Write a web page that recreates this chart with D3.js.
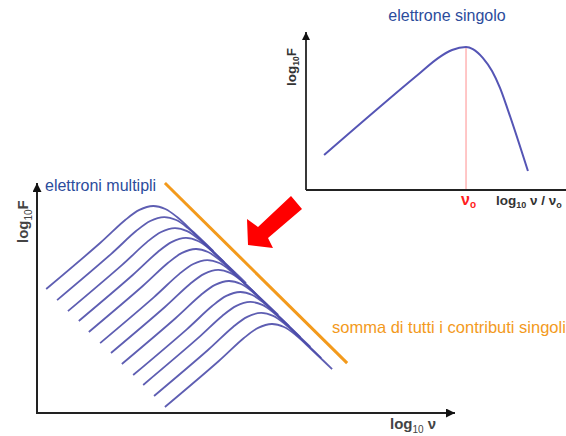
<!DOCTYPE html>
<html>
<head>
<meta charset="utf-8">
<script src="https://cdn.jsdelivr.net/npm/d3@7"></script>
<style>
  html, body { margin: 0; padding: 0; background: #fff; }
  svg { display: block; font-family: "Liberation Sans", Arial, Helvetica, sans-serif; }
</style>
</head>
<body>
<script>
// single electron spectrum (top panel), arbitrary log units 0..10
var singleX = [0.66, 4.16, 4.82, 5.33, 5.84, 6.09, 6.46, 6.79, 7.08, 7.37, 8.10];
var singleY = [2.22, 7.41, 8.35, 8.86, 9.05, 8.92, 8.35, 7.53, 6.46, 5.06, 1.20];
var nu0 = 5.84;

// shape of one electron's spectrum, relative to its peak (bottom panel)
var shapeDX = [-2.56, -1.27, -0.67, -0.33, 0, 0.29, 0.57, 0.96, 1.44];
var shapeDY = [-3.61, -1.61, -0.61, -0.17, 0, -0.13, -0.48, -1.13, -1.96];

// peaks of the twelve electrons
var peakX = [2.78, 3.04, 3.30, 3.56, 3.80, 4.07, 4.33, 4.59, 4.86, 5.10, 5.36, 5.62];
var peakY = [9.00, 8.52, 8.04, 7.61, 7.13, 6.65, 6.22, 5.74, 5.26, 4.83, 4.35, 3.87];

// envelope: sum of all contributions
var sumX = [3.06, 7.42];
var sumY = [10.0, 2.17];

var width = 566, height = 436;
var svg = d3.select("body").append("svg")
    .attr("width", width)
    .attr("height", height);

var defs = svg.append("defs");
defs.append("marker")
    .attr("id", "arrow")
    .attr("viewBox", "0 0 10 10")
    .attr("refX", 10).attr("refY", 5)
    .attr("markerWidth", 4.5).attr("markerHeight", 4.5)
    .attr("markerUnits", "strokeWidth")
    .attr("orient", "auto")
    .append("path")
    .attr("d", "M0,0L10,5L0,10z")
    .attr("fill", "#111");

var xTop = d3.scaleLinear().domain([0, 10]).range([306, 580]);
var yTop = d3.scaleLinear().domain([0, 10]).range([190, 32]);
var xBot = d3.scaleLinear().domain([0, 10]).range([37, 455]);
var yBot = d3.scaleLinear().domain([0, 10]).range([413, 183]);

var blue = "#4d4daa";

// ---------- top panel ----------
var topG = svg.append("g");

topG.append("line")
    .attr("x1", xTop(nu0)).attr("x2", xTop(nu0))
    .attr("y1", yTop(0)).attr("y2", yTop(d3.max(singleY)))
    .attr("stroke", "#ff8f8f").attr("stroke-width", 1);

topG.append("line")
    .attr("x1", xTop(0)).attr("y1", yTop(0))
    .attr("x2", xTop(10)).attr("y2", yTop(0))
    .attr("stroke", "#222").attr("stroke-width", 1.8);
topG.append("line")
    .attr("x1", xTop(0)).attr("y1", yTop(0))
    .attr("x2", xTop(0)).attr("y2", yTop(10))
    .attr("stroke", "#222").attr("stroke-width", 1.8)
    .attr("marker-end", "url(#arrow)");

var lineTop = d3.line()
    .x(function (d) { return xTop(d[0]); })
    .y(function (d) { return yTop(d[1]); })
    .curve(d3.curveMonotoneX);

topG.append("path")
    .datum(d3.zip(singleX, singleY))
    .attr("d", lineTop)
    .attr("fill", "none")
    .attr("stroke", "#5555b5")
    .attr("stroke-width", 2);

topG.append("text")
    .attr("x", 447).attr("y", 21)
    .attr("text-anchor", "middle")
    .attr("font-size", 16)
    .attr("fill", "#2c4c9c")
    .text("elettrone singolo");

var nuLab = topG.append("text")
    .attr("x", xTop(nu0) - 5).attr("y", 205)
    .attr("font-size", 16).attr("font-weight", "bold")
    .attr("fill", "#ff2020");
nuLab.append("tspan").text("\u03bd");
nuLab.append("tspan").attr("dy", 3).attr("font-size", 10).text("o");

var xLabTop = topG.append("text")
    .attr("x", 496).attr("y", 205)
    .attr("font-size", 13.5).attr("font-weight", "bold")
    .attr("fill", "#333");
xLabTop.append("tspan").text("log");
xLabTop.append("tspan").attr("dy", 3).attr("font-size", 9).text("10");
xLabTop.append("tspan").attr("dy", -3).text(" \u03bd / \u03bd");
xLabTop.append("tspan").attr("dy", 3).attr("font-size", 9).text("o");

var yLabTop = topG.append("text")
    .attr("transform", "translate(296,86) rotate(-90)")
    .attr("font-size", 13.5).attr("font-weight", "bold")
    .attr("fill", "#333");
yLabTop.append("tspan").text("log");
yLabTop.append("tspan").attr("dy", 3).attr("font-size", 8.5).text("10");
yLabTop.append("tspan").attr("dy", -3).text("F");

// ---------- bottom panel ----------
var botG = svg.append("g");

botG.append("line")
    .attr("x1", xBot(0)).attr("y1", yBot(0))
    .attr("x2", xBot(10)).attr("y2", yBot(0))
    .attr("stroke", "#222").attr("stroke-width", 2)
    .attr("marker-end", "url(#arrow)");
botG.append("line")
    .attr("x1", xBot(0)).attr("y1", yBot(0) + 1)
    .attr("x2", xBot(0)).attr("y2", yBot(10))
    .attr("stroke", "#222").attr("stroke-width", 2)
    .attr("marker-end", "url(#arrow)");

var lineBot = d3.line()
    .x(function (d) { return xBot(d[0]); })
    .y(function (d) { return yBot(d[1]); })
    .curve(d3.curveCatmullRom.alpha(0.5));

var electrons = d3.zip(peakX, peakY).map(function (p) {
    return d3.zip(shapeDX, shapeDY).map(function (s) {
        return [p[0] + s[0], p[1] + s[1]];
    });
});

botG.selectAll("path.electron")
    .data(electrons)
    .join("path")
    .attr("class", "electron")
    .attr("d", lineBot)
    .attr("fill", "none")
    .attr("stroke", blue)
    .attr("stroke-width", 1.8)
    .attr("stroke-opacity", 0.9);

botG.append("path")
    .datum(d3.zip(sumX, sumY))
    .attr("d", d3.line().x(function (d) { return xBot(d[0]); }).y(function (d) { return yBot(d[1]); }))
    .attr("stroke", "#f39a1c")
    .attr("stroke-width", 3);

// red arrow pointing from the single spectrum to the family
svg.append("polygon")
    .attr("points", "248,245 247,219 258,227 291,196 302,209 268,238 273,248")
    .attr("fill", "#ff0000");

botG.append("text")
    .attr("x", 45).attr("y", 191)
    .attr("font-size", 16)
    .attr("fill", "#2c4c9c")
    .text("elettroni multipli");

botG.append("text")
    .attr("x", 332).attr("y", 333)
    .attr("font-size", 16.5)
    .attr("fill", "#f39a1c")
    .text("somma di tutti i contributi singoli");

var xLabBot = botG.append("text")
    .attr("x", 390).attr("y", 429)
    .attr("font-size", 15).attr("font-weight", "bold")
    .attr("fill", "#444");
xLabBot.append("tspan").text("log");
xLabBot.append("tspan").attr("dy", 4).attr("font-size", 10).attr("font-weight", "normal").text("10");
xLabBot.append("tspan").attr("dy", -4).text(" \u03bd");

var yLabBot = botG.append("text")
    .attr("transform", "translate(28,243) rotate(-90)")
    .attr("font-size", 15).attr("font-weight", "bold")
    .attr("fill", "#444");
yLabBot.append("tspan").text("log");
yLabBot.append("tspan").attr("dy", 4).attr("font-size", 10).attr("font-weight", "normal").text("10");
yLabBot.append("tspan").attr("dy", -4).text("F");
</script>
</body>
</html>
